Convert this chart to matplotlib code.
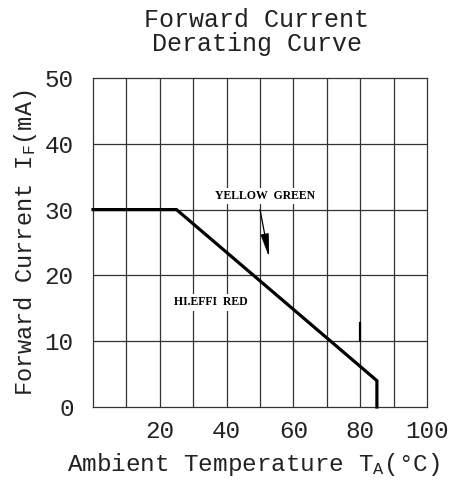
import matplotlib
matplotlib.use("Agg")
import matplotlib.pyplot as plt

# Data
temp = [0, 25, 85, 85]
current = [30, 30, 4, 0]
mark_x = [80, 80]
mark_y = [10, 12.8]
x_ticks = [20, 40, 60, 80, 100]
y_ticks = [0, 10, 20, 30, 40, 50]
title = "Forward Current\nDerating Curve"
label_yg = "YELLOW  GREEN"
label_red = "HI.EFFI  RED"

plt.rcParams['mathtext.fontset'] = 'custom'
plt.rcParams['mathtext.rm'] = 'Liberation Mono'
plt.rcParams['mathtext.it'] = 'Liberation Mono'

mono = 'Liberation Mono'
fig = plt.figure(figsize=(4.52, 4.83), dpi=100)
ax = fig.add_axes([93/452, 76/483, 334/452, 329/483])
ax.set_xlim(0, 100)
ax.set_ylim(0, 50)

grid_c = '#333333'
for gx in range(10, 100, 10):
    ax.axvline(gx, color=grid_c, lw=0.9, zorder=1)
for gy in range(10, 50, 10):
    ax.axhline(gy, color=grid_c, lw=0.9, zorder=1)
for s in ax.spines.values():
    s.set_color(grid_c)
    s.set_linewidth(0.9)

ax.plot(mark_x, mark_y, color='black', lw=1.6, zorder=2)
ax.plot(temp, current, color='black', lw=2.3, solid_joinstyle='miter', zorder=3, clip_on=False)

ax.set_xticks(x_ticks)
ax.set_yticks(y_ticks)
ax.tick_params(length=0, labelsize=17.5)
for lab in ax.get_xticklabels() + ax.get_yticklabels():
    lab.set_fontfamily(mono)
    lab.set_color('#222222')
ax.tick_params(axis='x', pad=9)
ax.tick_params(axis='y', pad=14)

ax.set_xlabel(r"Ambient Temperature T$_{\mathregular{A}}$(°C)", fontsize=17.5, family=mono,
              color='#222222')
ax.xaxis.set_label_coords(0.48, -0.135)
ax.set_ylabel(r"Forward Current I$_{\mathregular{F}}$(mA)", fontsize=17, family=mono,
              labelpad=4, color='#222222')

fig.text(257/452, 1 - 32/483, title, ha='center', va='center', fontsize=18, family=mono,
         linespacing=0.95, color='#222222')

ax.text(51.4, 32.1, label_yg, ha='center', va='center', fontsize=8.5, family='Liberation Serif',
        weight='bold', zorder=4, bbox=dict(facecolor='white', edgecolor='none', pad=1.5))
ax.text(35.2, 15.9, label_red, ha='center', va='center', fontsize=8.5, family='Liberation Serif',
        weight='bold', zorder=4, bbox=dict(facecolor='white', edgecolor='none', pad=1.5))

ax.annotate('', xy=(52.7, 22.8), xytext=(50.0, 30.0),
            arrowprops=dict(arrowstyle='-|>,head_length=1.4,head_width=0.25', lw=0.9,
                            color='black', mutation_scale=10, shrinkA=0, shrinkB=0), zorder=4)

fig.savefig('out.png', dpi=100, facecolor='white')
